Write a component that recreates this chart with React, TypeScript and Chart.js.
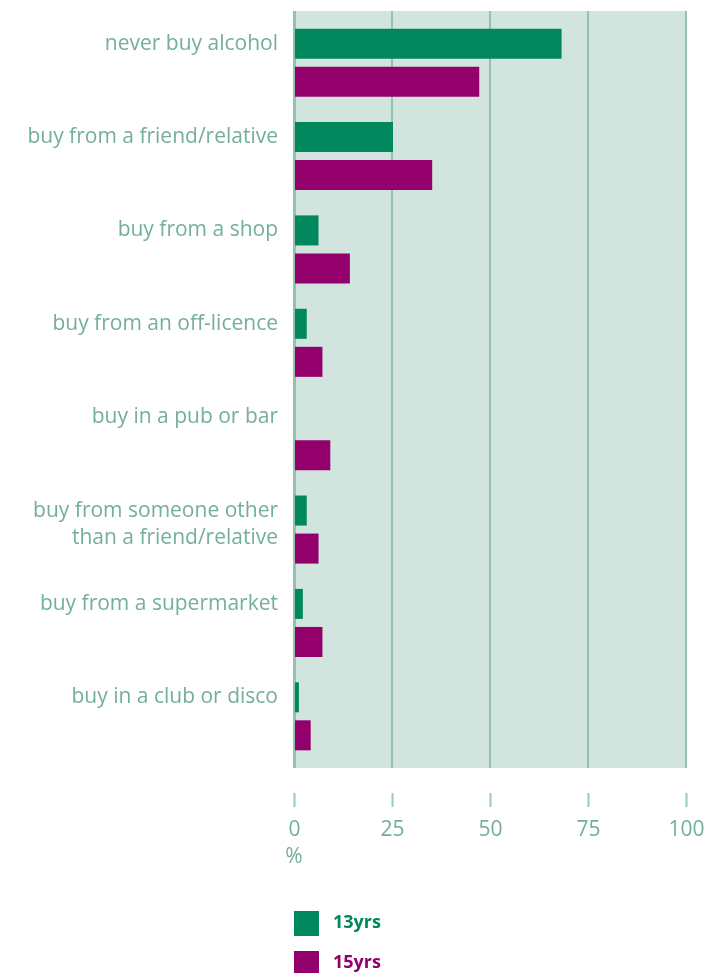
import React, { useEffect, useRef } from "react";
import { Chart, registerables } from "chart.js";

Chart.register(...registerables);

const categories: string[][] = [
  ["never buy alcohol"],
  ["buy from a friend/relative"],
  ["buy from a shop"],
  ["buy from an off-licence"],
  ["buy in a pub or bar"],
  ["buy from someone other", "than a friend/relative"],
  ["buy from a supermarket"],
  ["buy in a club or disco"],
];
const values13 = [68, 25, 6, 3, 0, 3, 2, 1];
const values15 = [47, 35, 14, 7, 9, 6, 7, 4];
const xTicks = [0, 25, 50, 75, 100];
const seriesNames = ["13yrs", "15yrs"];
const unitLabel = "%";

const GREEN = "#00875d";
const PURPLE = "#93006b";
const BG = "#d2e4de";
const GRID = "#94c2b1";
const TEXT = "#74af9a";
const FONT = "'Open Sans', sans-serif";

const decor = {
  id: "decor",
  beforeDatasetsDraw(chart: any) {
    const { ctx, chartArea } = chart;
    const x = chart.scales.x;
    const top = chartArea.top - 5;
    const bottom = chartArea.bottom + 5;
    ctx.save();
    ctx.fillStyle = BG;
    ctx.fillRect(chartArea.left, top, chartArea.right - chartArea.left, bottom - top);
    ctx.strokeStyle = GRID;
    xTicks.forEach((v) => {
      const px = x.getPixelForValue(v);
      ctx.lineWidth = v === 0 ? 3 : 2;
      ctx.beginPath();
      const xx = v === 0 ? px - 0.5 : px - 1;
      ctx.moveTo(xx, top);
      ctx.lineTo(xx, bottom);
      ctx.stroke();
    });
    ctx.restore();
  },
  afterDraw(chart: any) {
    const { ctx } = chart;
    const x = chart.scales.x;
    const y = chart.scales.y;
    ctx.save();
    // x ticks
    ctx.strokeStyle = "#9cc8b7";
    ctx.lineWidth = 2;
    ctx.fillStyle = TEXT;
    ctx.font = `21px ${FONT}`;
    ctx.textAlign = "center";
    ctx.textBaseline = "middle";
    xTicks.forEach((v) => {
      const px = x.getPixelForValue(v) - 0.5;
      ctx.beginPath();
      ctx.moveTo(px, 793);
      ctx.lineTo(px, 807);
      ctx.stroke();
      ctx.fillText(String(v), px, 830);
    });
    ctx.fillText(unitLabel, x.getPixelForValue(0) - 1, 857);
    // y labels
    ctx.font = `21px ${FONT}`;
    ctx.textAlign = "right";
    categories.forEach((lines, i) => {
      const cy = y.getPixelForValue(i) - 19;
      lines.forEach((ln, j) => {
        ctx.fillText(ln, 278, cy + j * 27);
      });
    });
    // legend
    const colors = [GREEN, PURPLE];
    ctx.font = `bold 18px ${FONT}`;
    ctx.textAlign = "left";
    seriesNames.forEach((name, i) => {
      const top = 911 + i * 40;
      ctx.fillStyle = colors[i];
      ctx.fillRect(294, top, 25, 25);
      ctx.fillText(name, 333, top + 12);
    });
    ctx.restore();
  },
};

export default function App() {
  const ref = useRef<HTMLCanvasElement | null>(null);
  useEffect(() => {
    if (!ref.current) return;
    const chart = new Chart(ref.current, {
      type: "bar",
      data: {
        labels: categories.map((c) => c.join(" ")),
        datasets: [
          { label: seriesNames[0], data: values13, backgroundColor: GREEN },
          { label: seriesNames[1], data: values15, backgroundColor: PURPLE },
        ],
      },
      options: {
        indexAxis: "y",
        responsive: false,
        animation: false,
        devicePixelRatio: 1,
        layout: { padding: { left: 295, right: 22, top: 16, bottom: 210 } },
        datasets: { bar: { categoryPercentage: 0.8146, barPercentage: 0.79 } },
        plugins: { legend: { display: false }, tooltip: { enabled: false } },
        scales: {
          x: { display: false, min: 0, max: 100 },
          y: { display: false },
        },
      },
      plugins: [decor],
    });
    return () => chart.destroy();
  }, []);
  return (
    <div style={{ position: "absolute", left: 0, top: 0, width: 709, height: 973 }}>
      <canvas ref={ref} width={709} height={973} />
    </div>
  );
}
